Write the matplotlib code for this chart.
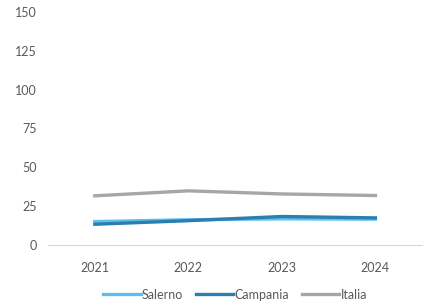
import matplotlib
matplotlib.use("Agg")
import matplotlib.pyplot as plt

years = ["2021", "2022", "2023", "2024"]
salerno = [15.0, 16.2, 16.8, 16.6]
campania = [13.3, 15.6, 18.3, 17.4]
italia = [31.6, 34.8, 32.8, 31.8]

plt.rcParams['font.family'] = ['Lato', 'DejaVu Sans']

fig = plt.figure(figsize=(4.33, 3.05), dpi=100)
ax = fig.add_axes([0.111, 0.197, 0.864, 0.764])

x = range(len(years))
ax.plot(x, salerno, color='#5bc0eb', lw=2.4, label='Salerno')
ax.plot(x, campania, color='#2b7fae', lw=2.4, label='Campania')
ax.plot(x, italia, color='#a6a6a6', lw=2.4, label='Italia')

ax.set_xlim(-0.5, 3.5)
ax.set_ylim(0, 150)
ax.set_yticks([0, 25, 50, 75, 100, 125, 150])
ax.set_xticks(list(x))
ax.set_xticklabels(years)
ax.tick_params(axis='y', length=0, labelsize=9, colors='#595959', pad=8)
ax.tick_params(axis='x', length=0, labelsize=9, colors='#595959', pad=12)
for s in ['top', 'right', 'left']:
    ax.spines[s].set_visible(False)
ax.spines['bottom'].set_color('#d9d9d9')

ax.legend(loc='upper center', bbox_to_anchor=(0.5, -0.14), ncol=3, frameon=False,
          fontsize=9, handlelength=3.0, handletextpad=0.1, columnspacing=1.0,
          labelcolor='#595959')

fig.savefig('out.png', dpi=100)
